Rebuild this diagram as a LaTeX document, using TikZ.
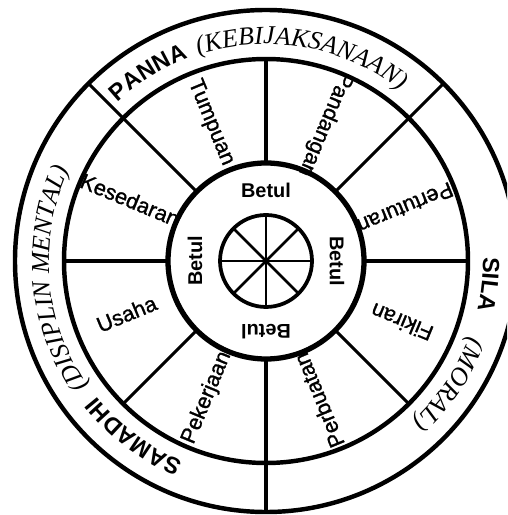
\documentclass[tikz,border=0pt]{standalone}
\usepackage{fontspec}
\setmainfont{Liberation Serif}
\setsansfont{Liberation Sans}
\newfontfamily\sedang[FakeBold=1.2]{Liberation Sans}
\usetikzlibrary{decorations.text}
\newcommand{\jalanfont}{\sedang\fontsize{18.5}{20}\selectfont}
\newcommand{\betulfont}{\sffamily\bfseries\fontsize{17}{19}\selectfont}
\newcommand{\tajukfont}{\sffamily\bfseries\fontsize{20}{22}\selectfont}
\newcommand{\maknafont}{\rmfamily\itshape\fontsize{22}{24}\selectfont}
\tikzset{
  roda/.style={line width=3.8pt},
  jejari/.style={line width=2.7pt},
  jalan/.style={font=\jalanfont, inner sep=0pt, text height=1.6ex, text depth=0.4ex},
  betul/.style={font=\betulfont, inner sep=0pt},
  lengkung/.style={decorate, decoration={text along path, text align=center, text={#1}}},
}
\begin{document}
\begin{tikzpicture}[scale=0.03]
  \clip (-266,-254) rectangle (241,261);
  \draw[roda] (0,0) circle (251);
  \draw[roda] (0,0) circle (202);
  \draw[roda, line width=4.5pt] (0,0) circle (98);
  \draw[roda, line width=3.2pt] (0,0) circle (46);
  \foreach \a in {0,45,...,315}
    \draw[jejari] (\a:98) -- (\a:202);
  \foreach \a in {0,45,90,135}
    \draw[jejari, line width=2.2pt] (\a:46) -- ({\a+180}:46);
  \foreach \a in {45,135,270}
    \draw[jejari] (\a:202) -- (\a:251);
  % lapan jalan
  \foreach \a/\nama/\teks in {112.5/tumpuan/Tumpuan, 67.5/pandangan/Pandangan,
      22.5/pertuturan/Pertuturan, -22.5/fikiran/Fikiran, -67.5/perbuatan/Perbuatan,
      -112.5/pekerjaan/Pekerjaan, 157.5/kesedaran/Kesedaran, 202.5/usaha/Usaha}
    \node[jalan, rotate=\a+180] (\nama) at (\a:149) {\teks};
  \foreach \a/\nama in {90/atas, 0/kanan, 270/bawah, 180/kiri}
    \node[betul, rotate=\a-90] (betul-\nama) at (\a:71) {Betul};
  % gelang luar
  \path[lengkung={|\tajukfont|PANNA}] (142:217) arc[start angle=142, end angle=102, radius=217];
  \path[lengkung={|\maknafont|(KEBIJAKSANAAN)}] (115:217) arc[start angle=115, end angle=45, radius=217];
  \path[lengkung={|\tajukfont|SILA}] (9:217) arc[start angle=9, end angle=-21, radius=217];
  \path[lengkung={|\maknafont|(MORAL)}] (-14:217) arc[start angle=-14, end angle=-54, radius=217];
  \path[lengkung={|\tajukfont|SAMADHI}] (253:217) arc[start angle=253, end angle=213, radius=217];
  \path[lengkung={|\maknafont|(DISIPLIN MENTAL)}] (220:217) arc[start angle=220, end angle=150, radius=217];
\end{tikzpicture}
\end{document}
